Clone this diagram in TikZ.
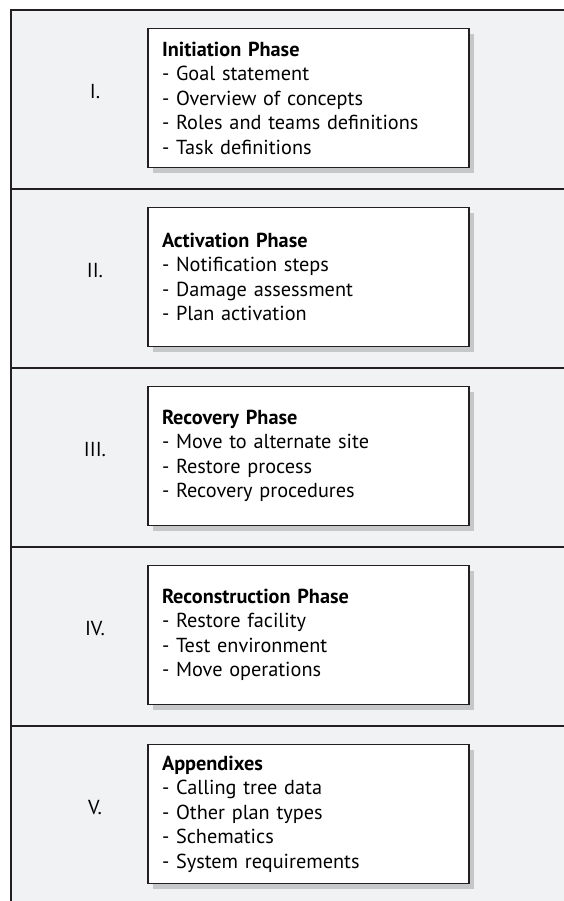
\documentclass[tikz,border=0pt]{standalone}
\usepackage{fontspec}
\setmainfont{PT Sans}
\usetikzlibrary{shadows}

\definecolor{panelgray}{HTML}{F1F2F4}
\definecolor{shadowgray}{HTML}{C6C7C9}
\definecolor{inkblack}{HTML}{231F20}

\begin{document}
\begin{tikzpicture}[x=0.75pt, y=-0.75pt, line width=1pt,
    rule/.style={draw=inkblack, line width=1.1pt},
    phasebox/.style={draw=inkblack, fill=white, line width=0.9pt,
        rectangle, align=left, anchor=center,
        text width=219.75pt, inner xsep=10.5pt, inner ysep=0pt,
        minimum height=104.25pt,
        font=\fontsize{15.2}{18.4}\selectfont,
        drop shadow={shadow xshift=3.75pt, shadow yshift=-3.75pt,
            opacity=1, fill=shadowgray}},
    numlabel/.style={font=\fontsize{15.2}{18.4}\selectfont, anchor=base}]

    \useasboundingbox (0,0) rectangle (564,901);

    % ==========================================
    % 1. Sfondo e cornice della tabella
    % ==========================================
    \fill[panelgray] (11,10) rectangle (564,901);
    \draw[rule] (564,10) -- (11,10) -- (11,901);

    % linee di separazione tra le fasi
    \foreach \k in {1,...,4}{
        \draw[rule] (11, {10+179*\k}) -- (564, {10+179*\k});
    }

    % ==========================================
    % 2. Numeri romani e riquadri delle fasi
    % ==========================================
    \foreach \i / \num / \title / \items in {
        0/I./Initiation Phase/{- Goal statement\\- Overview of concepts\\- Roles and teams definitions\\- Task definitions},
        1/II./Activation Phase/{- Notification steps\\- Damage assessment\\- Plan activation},
        2/III./Recovery Phase/{- Move to alternate site\\- Restore process\\- Recovery procedures},
        3/IV./Reconstruction Phase/{- Restore facility\\- Test environment\\- Move operations},
        4/V./Appendixes/{- Calling tree data\\- Other plan types\\- Schematics\\- System requirements}
    }{
        % centro verticale del riquadro
        \pgfmathsetmacro{\y}{98 + \i*179}

        \node[numlabel] (num\i) at (95, \y) {\num};
        \node[phasebox] (box\i) at (308.5, \y) {\textbf{\title}\\\items};
    }

\end{tikzpicture}
\end{document}
